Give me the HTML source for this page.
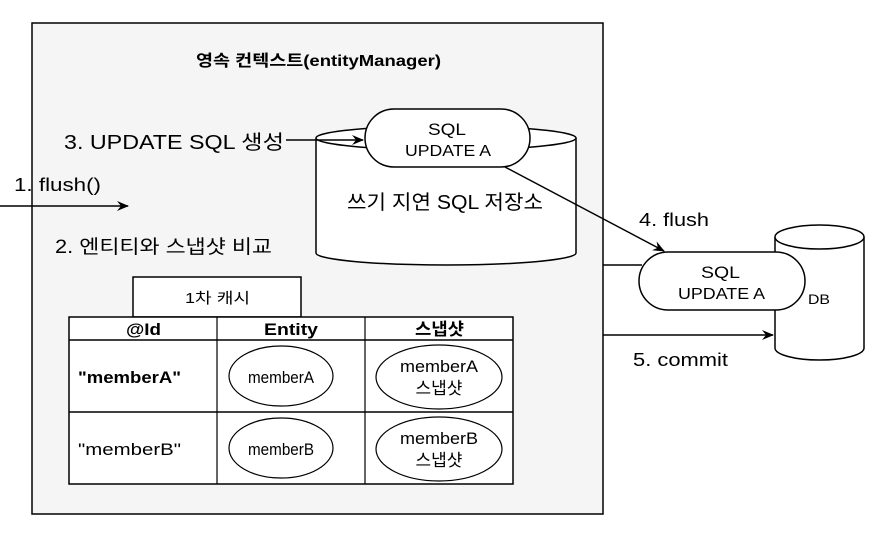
<!DOCTYPE html>
<html><head><meta charset="utf-8"><style>
html,body{margin:0;padding:0;background:#fff;}
svg text{font-family:"Liberation Sans","Noto Sans CJK KR",sans-serif;fill:#000;}
</style></head><body>
<svg width="875" height="535" viewBox="0 0 875 535" xmlns="http://www.w3.org/2000/svg">
<defs>
<marker id="a" markerWidth="12" markerHeight="10" refX="11" refY="5" orient="auto" markerUnits="userSpaceOnUse">
<path d="M0,0 L12,5 L0,10 L4,5 Z" fill="#000"/></marker>
</defs>
<rect x="32" y="23" width="571" height="491" fill="#f5f5f5" stroke="#000" stroke-width="1.5"/>
<text x="196" y="66" font-size="16" font-weight="bold" textLength="245" lengthAdjust="spacingAndGlyphs">영속 컨텍스트(entityManager)</text>
<path d="M316,138 L316,253 A130,12 0 0 0 576,253 L576,138" fill="#fff" stroke="#000" stroke-width="1.5"/>
<ellipse cx="446" cy="138" rx="130" ry="12" fill="#fff" stroke="#000" stroke-width="1.5"/>
<text x="347" y="209" font-size="20" textLength="196" lengthAdjust="spacingAndGlyphs">쓰기 지연 SQL 저장소</text>
<rect x="365" y="109" width="165" height="58" rx="29" fill="#fff" stroke="#000" stroke-width="1.5"/>
<text x="428" y="135" font-size="17" textLength="38" lengthAdjust="spacingAndGlyphs">SQL</text>
<text x="405" y="156" font-size="16" textLength="86" lengthAdjust="spacingAndGlyphs">UPDATE A</text>
<text x="64" y="149" font-size="20" textLength="220" lengthAdjust="spacingAndGlyphs">3. UPDATE SQL 생성</text>
<line x1="286" y1="140" x2="363" y2="140" stroke="#000" stroke-width="1.5" marker-end="url(#a)"/>
<text x="14" y="191" font-size="18" textLength="87" lengthAdjust="spacingAndGlyphs">1. flush()</text>
<line x1="0" y1="206" x2="128" y2="206" stroke="#000" stroke-width="1.5" marker-end="url(#a)"/>
<text x="55" y="253" font-size="19" textLength="217" lengthAdjust="spacingAndGlyphs">2. 엔티티와 스냅샷 비교</text>
<rect x="133" y="277" width="168" height="40" fill="#fff" stroke="#000" stroke-width="1.5"/>
<text x="185" y="303" font-size="15" textLength="65" lengthAdjust="spacingAndGlyphs">1차 캐시</text>
<rect x="69" y="317" width="444" height="167" fill="#fff" stroke="#000" stroke-width="1.5"/>
<line x1="69" y1="340" x2="513" y2="340" stroke="#000" stroke-width="1.5"/>
<line x1="69" y1="412" x2="513" y2="412" stroke="#000" stroke-width="1.5"/>
<line x1="217" y1="317" x2="217" y2="484" stroke="#000" stroke-width="1.2"/>
<line x1="365" y1="317" x2="365" y2="484" stroke="#000" stroke-width="1.2"/>
<text x="126" y="335" font-size="17" font-weight="bold" textLength="35" lengthAdjust="spacingAndGlyphs">@Id</text>
<text x="264" y="335" font-size="17" font-weight="bold" textLength="54" lengthAdjust="spacingAndGlyphs">Entity</text>
<text x="415" y="335" font-size="17" font-weight="bold" textLength="49" lengthAdjust="spacingAndGlyphs">스냅샷</text>
<text x="78" y="383" font-size="17" font-weight="bold" textLength="103" lengthAdjust="spacingAndGlyphs">"memberA"</text>
<text x="78" y="455" font-size="17" textLength="103" lengthAdjust="spacingAndGlyphs">"memberB"</text>
<ellipse cx="281" cy="376" rx="52" ry="30" fill="#fff" stroke="#000" stroke-width="1.2"/>
<text x="248" y="383" font-size="17" textLength="66" lengthAdjust="spacingAndGlyphs">memberA</text>
<ellipse cx="281" cy="448" rx="52" ry="30" fill="#fff" stroke="#000" stroke-width="1.2"/>
<text x="248" y="455" font-size="17" textLength="66" lengthAdjust="spacingAndGlyphs">memberB</text>
<ellipse cx="439" cy="377" rx="63" ry="32" fill="#fff" stroke="#000" stroke-width="1.2"/>
<text x="400" y="372" font-size="17" textLength="78" lengthAdjust="spacingAndGlyphs">memberA</text>
<text x="439" y="394" font-size="17" text-anchor="middle">스냅샷</text>
<ellipse cx="439" cy="449" rx="63" ry="32" fill="#fff" stroke="#000" stroke-width="1.2"/>
<text x="400" y="444" font-size="17" textLength="78" lengthAdjust="spacingAndGlyphs">memberB</text>
<text x="439" y="466" font-size="17" text-anchor="middle">스냅샷</text>
<path d="M775,237 L775,348 A44.5,12 0 0 0 864,348 L864,237" fill="#fff" stroke="#000" stroke-width="1.5"/>
<ellipse cx="819.5" cy="237" rx="44.5" ry="12" fill="#fff" stroke="#000" stroke-width="1.5"/>
<text x="808" y="304" font-size="14" textLength="22" lengthAdjust="spacingAndGlyphs">DB</text>
<line x1="603" y1="265" x2="642" y2="265" stroke="#000" stroke-width="1.5"/>
<rect x="639" y="252" width="166" height="58" rx="29" fill="#fff" stroke="#000" stroke-width="1.5"/>
<text x="701" y="278" font-size="17" textLength="39" lengthAdjust="spacingAndGlyphs">SQL</text>
<text x="678" y="299" font-size="16" textLength="87" lengthAdjust="spacingAndGlyphs">UPDATE A</text>
<line x1="505" y1="167" x2="664" y2="251" stroke="#000" stroke-width="1.5" marker-end="url(#a)"/>
<text x="639" y="226" font-size="18" textLength="70" lengthAdjust="spacingAndGlyphs">4. flush</text>
<line x1="603" y1="335" x2="773" y2="335" stroke="#000" stroke-width="1.5" marker-end="url(#a)"/>
<text x="633" y="366" font-size="18" textLength="95" lengthAdjust="spacingAndGlyphs">5. commit</text>
</svg>
</body></html>
